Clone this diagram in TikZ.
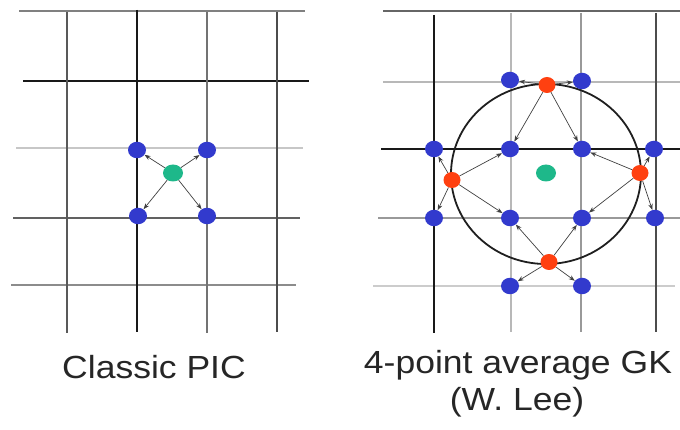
\documentclass[tikz,border=0pt]{standalone}
\usepackage{fontspec}
\setmainfont{Liberation Sans}
\usetikzlibrary{shapes.geometric,arrows.meta}
\tikzset{
  gridline/.style={line width=1.1pt},
  blk/.style={line width=1.6pt, draw=black!90},
  dot/.style={ellipse, inner sep=0pt, minimum width=18pt, minimum height=16.5pt},
  bluedot/.style={dot, fill={rgb,255:red,50;green,58;blue,205}},
  reddot/.style={dot, minimum width=17pt, minimum height=16pt, fill={rgb,255:red,255;green,64;blue,16}},
  greendot/.style={dot, minimum width=20pt, minimum height=17pt, fill={rgb,255:red,30;green,184;blue,138}},
  arr/.style={-{Stealth[length=6pt,width=4.5pt]}, line width=0.7pt, draw=black!75},
  lbl/.style={font=\fontsize{32}{38}\selectfont, anchor=base, text=black!85, inner sep=0pt}
}
\begin{document}
\begin{tikzpicture}[x=1pt,y=-1pt]
\useasboundingbox (0,0) rectangle (680,430);
% ---------- left grid ----------
\draw[gridline, black!50] (19,11) -- (305,11);
\draw[blk] (23,81) -- (309,81);
\draw[gridline, black!22] (16,148) -- (303,148);
\draw[gridline, black!62] (13,218) -- (300,218);
\draw[gridline, black!45] (11,285) -- (296,285);
\draw[gridline, black!65] (67,12) -- (67,333);
\draw[blk] (137,10) -- (137,332);
\draw[gridline, black!55] (207,12) -- (207,333);
\draw[gridline, black!70] (277,12) -- (277,332);
% ---------- left dots ----------
\node[bluedot] (l1) at (137,150) {};
\node[bluedot] (l2) at (207,150) {};
\node[bluedot] (l3) at (138,216) {};
\node[bluedot] (l4) at (207,216) {};
\node[greendot] (lg) at (173,173) {};
\draw[arr] (lg) -- (l1);
\draw[arr] (lg) -- (l2);
\draw[arr] (lg) -- (l3);
\draw[arr] (lg) -- (l4);
% ---------- right grid ----------
\draw[gridline, black!60] (383,11) -- (680,11);
\draw[gridline, black!28] (383,82) -- (680,82);
\draw[blk] (381,149) -- (680,149);
\draw[gridline, black!40] (378,218) -- (680,218);
\draw[gridline, black!20] (373,286) -- (675,286);
\draw[blk] (434,15) -- (434,333);
\draw[gridline, black!28] (511,13) -- (511,332);
\draw[gridline, black!40] (581,13) -- (581,332);
\draw[gridline, black!70] (656,13) -- (656,332);
% big circle
\coordinate (cc) at (546,174);
\draw[line width=1.8pt, black!88] (cc) ellipse [x radius=95, y radius=90];
% ---------- right dots ----------
\node[bluedot] (b1) at (510,80) {};
\node[bluedot] (b2) at (582,81) {};
\node[bluedot] (b3) at (434,149) {};
\node[bluedot] (b4) at (510,149) {};
\node[bluedot] (b5) at (582,149) {};
\node[bluedot] (b6) at (654,149) {};
\node[bluedot] (b7) at (434,218) {};
\node[bluedot] (b8) at (510,218) {};
\node[bluedot] (b9) at (582,218) {};
\node[bluedot] (b10) at (655,218) {};
\node[bluedot] (b11) at (510,286) {};
\node[bluedot] (b12) at (582,286) {};
\node[reddot] (rt) at (547,85) {};
\node[reddot] (rl) at (452,180) {};
\node[reddot] (rr) at (640,173) {};
\node[reddot] (rb) at (549,262) {};
\node[greendot] (rg) at (546,173) {};
\foreach \b in {b1,b2,b4,b5} \draw[arr] (rt) -- (\b);
\foreach \b in {b3,b7,b4,b8} \draw[arr] (rl) -- (\b);
\foreach \b in {b6,b10,b5,b9} \draw[arr] (rr) -- (\b);
\foreach \b in {b8,b9,b11,b12} \draw[arr] (rb) -- (\b);
% ---------- labels ----------
\node[lbl] (t1) at (154,378) {\scalebox{1.11}[1]{Classic PIC}};
\node[lbl] (t2) at (518,373) {\scalebox{1.11}[1]{4-point average GK}};
\node[lbl] (t3) at (517,410) {\scalebox{1.11}[1]{(W. Lee)}};
\end{tikzpicture}
\end{document}
